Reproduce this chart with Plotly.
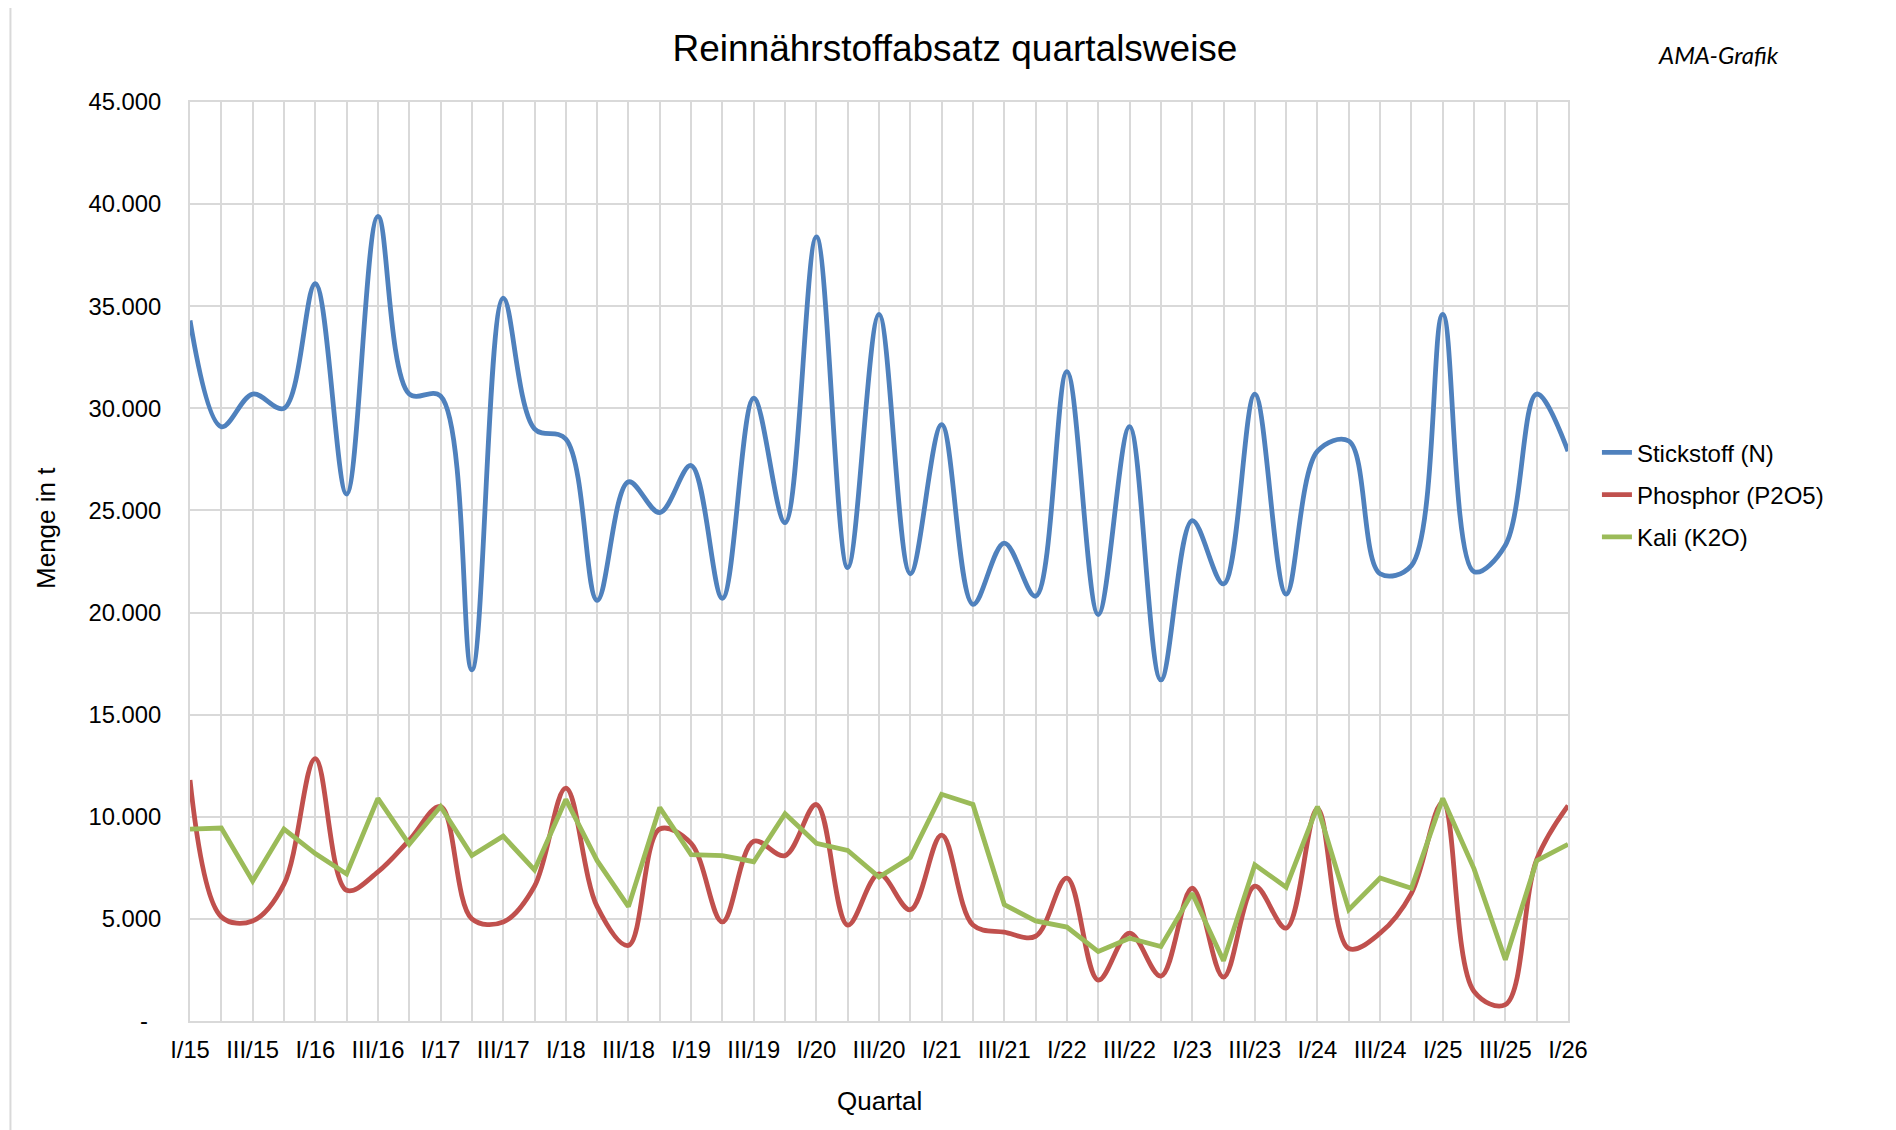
import plotly.graph_objects as go

# ---- data ----
years = ["15", "16", "17", "18", "19", "20", "21", "22", "23", "24", "25"]
roman = ["I", "II", "III", "IV"]
quarters = [f"{r}/{y}" for y in years for r in roman] + ["I/26"]

stickstoff = [34300, 29100, 30700, 30000, 36100, 25800, 39400, 30700, 30600, 17200,
              35400, 29000, 28500, 20600, 26400, 24900, 27200, 20700, 30500, 24400,
              38400, 22200, 34600, 21900, 29200, 20400, 23400, 20800, 31800, 19900,
              29100, 16700, 24500, 21400, 30700, 20900, 27900, 28400, 21900, 22300,
              34600, 22000, 23300, 30700, 27900]
phosphor = [11800, 5100, 4900, 6700, 12850, 6400, 7300, 8850, 10500, 5000,
            4850, 6600, 11400, 5600, 3700, 9400, 8700, 4850, 8800, 8100,
            10600, 4700, 7200, 5450, 9100, 4700, 4350, 4150, 7000, 2000,
            4300, 2200, 6500, 2150, 6600, 4550, 10400, 3550, 4300, 6250,
            10700, 1450, 800, 7900, 10550]
kali = [9400, 9450, 6850, 9400, 8200, 7200, 10900, 8650, 10500, 8100,
        9050, 7400, 10850, 7850, 5600, 10450, 8150, 8100, 7800, 10150,
        8700, 8350, 7050, 8000, 11100, 10600, 5700, 4900, 4600, 3400,
        4050, 3650, 6250, 2950, 7650, 6550, 10500, 5450, 7000, 6500,
        10900, 7450, 3000, 7850, 8650]

y_ticks = [0, 5000, 10000, 15000, 20000, 25000, 30000, 35000, 40000, 45000]
y_ticktext = ["-\u00a0\u00a0", "5.000", "10.000", "15.000", "20.000", "25.000",
              "30.000", "35.000", "40.000", "45.000"]
x_ticktext = [q if i % 2 == 0 else "" for i, q in enumerate(quarters)]

FONT = "Liberation Sans, Arial, sans-serif"
GRID = "#d9d9d9"
TS = 23.8

fig = go.Figure()
fig.add_trace(go.Scatter(x=quarters, y=stickstoff, name="Stickstoff (N)", mode="lines",
                         line=dict(color="#4F81BD", width=4.8, shape="spline", smoothing=1.0),
                         legendgroup="a"))
fig.add_trace(go.Scatter(x=quarters, y=phosphor, name="Phosphor (P2O5)", mode="lines",
                         line=dict(color="#C0504D", width=4.8, shape="spline", smoothing=1.0),
                         legendgroup="b"))
fig.add_trace(go.Scatter(x=quarters, y=kali, name="Kali (K2O)", mode="lines",
                         line=dict(color="#9BBB59", width=4.8, shape="linear"),
                         legendgroup="c"))

fig.update_layout(
    width=1896, height=1130,
    margin=dict(l=182, r=336, t=94, b=117),
    paper_bgcolor="white", plot_bgcolor="white",
    font=dict(family=FONT, size=TS, color="#000000"),
    title=dict(text="Reinnährstoffabsatz quartalsweise", x=(955 - 8) / 1896, xanchor="center",
               y=1 - 40 / 1130, yanchor="middle", yref="container",
               font=dict(family=FONT, size=37, color="#000000")),
    showlegend=True,
    legend=dict(x=1.021, xanchor="left", y=0.5725, yanchor="middle",
                font=dict(family=FONT, size=24, color="#000000"),
                tracegroupgap=8, traceorder="grouped", bgcolor="rgba(0,0,0,0)"),
    xaxis=dict(type="category", range=[0, 44], tickmode="array", tickvals=quarters,
               ticktext=x_ticktext, showgrid=True, gridcolor=GRID, gridwidth=2,
               showline=True, linecolor=GRID, linewidth=2, mirror=True,
               ticks="", ticklabelstandoff=6, tickangle=0,
               tickfont=dict(family=FONT, size=TS, color="#000000")),
    yaxis=dict(range=[0, 45000], tickmode="array", tickvals=y_ticks, ticktext=y_ticktext,
               showgrid=True, gridcolor=GRID, gridwidth=2, zeroline=False,
               showline=True, linecolor=GRID, linewidth=2, mirror=True,
               ticks="", ticklabelstandoff=22,
               tickfont=dict(family=FONT, size=TS, color="#000000")),
)

fig.add_annotation(text="Menge in t", xref="paper", yref="paper", x=-0.1045, y=0.5365,
                   xanchor="center", yanchor="middle", textangle=-90, showarrow=False,
                   font=dict(family=FONT, size=26, color="#000000"))
fig.add_annotation(text="Quartal", xref="paper", yref="paper", x=0.5, y=-0.0866,
                   xanchor="center", yanchor="middle", showarrow=False,
                   font=dict(family=FONT, size=26, color="#000000"))
fig.add_annotation(text="<i>AMA-Grafik</i>", xref="paper", yref="paper", x=1.109, y=1.0517,
                   xanchor="center", yanchor="middle", showarrow=False,
                   font=dict(family="Lato, Open Sans, sans-serif", size=24, color="#000000"))

fig.add_shape(type="rect", xref="paper", yref="paper", x0=-0.1303, x1=1.3, y0=-0.3, y1=1.1048,
              line=dict(color=GRID, width=2), fillcolor="rgba(0,0,0,0)", layer="below")

fig.write_html("out.html")
